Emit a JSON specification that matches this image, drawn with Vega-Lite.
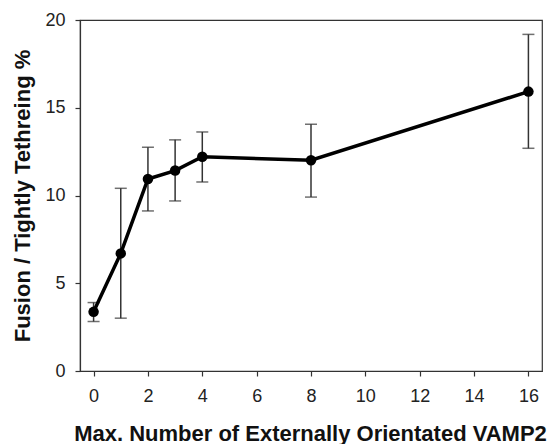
{
  "$schema": "https://vega.github.io/schema/vega-lite/v6.json",
  "autosize": "none",
  "width": 462,
  "height": 351,
  "padding": {"left": 80, "top": 20, "right": 10, "bottom": 73},
  "config": {
    "view": {"stroke": "#333", "strokeWidth": 1.2},
    "axis": {
      "domainColor": "#333", "tickColor": "#333", "domainWidth": 1.2, "tickWidth": 1.2,
      "tickSize": 5, "grid": false, "labelFont": "Liberation Sans", "labelFontSize": 18,
      "labelColor": "#222", "titleFont": "Liberation Sans",
      "titleFontWeight": "bold", "titleColor": "#111"
    }
  },
  "data": {"values": [
    {"n": 0, "mean": 3.37, "lo": 2.82, "hi": 3.9},
    {"n": 1, "mean": 6.7, "lo": 3.01, "hi": 10.41},
    {"n": 2, "mean": 10.94, "lo": 9.12, "hi": 12.75},
    {"n": 3, "mean": 11.42, "lo": 9.69, "hi": 13.17},
    {"n": 4, "mean": 12.21, "lo": 10.77, "hi": 13.62},
    {"n": 8, "mean": 12.01, "lo": 9.91, "hi": 14.06},
    {"n": 16, "mean": 15.92, "lo": 12.69, "hi": 19.18}
  ]},
  "encoding": {
    "x": {"field": "n", "type": "quantitative",
      "scale": {"domain": [-0.5, 16.5], "nice": false, "zero": false},
      "axis": {"values": [0, 2, 4, 6, 8, 10, 12, 14, 16], "labelPadding": 11,
        "title": "Max. Number of Externally Orientated VAMP2", "titleFontSize": 22, "titleY": 69, "titleX": 230, "titleBaseline": "alphabetic"}}
  },
  "layer": [
    {"mark": {"type": "rule", "color": "#333", "strokeWidth": 1.5},
     "encoding": {
       "y": {"field": "lo", "type": "quantitative",
         "scale": {"domain": [0, 20], "nice": false},
         "axis": {"values": [0, 5, 10, 15, 20], "labelPadding": 10,
           "title": "Fusion / Tightly Tethreing %", "titleFontSize": 22, "titleX": -51, "titleBaseline": "alphabetic"}},
       "y2": {"field": "hi"}}},
    {"mark": {"type": "tick", "orient": "horizontal", "color": "#333", "size": 12, "thickness": 1.5},
     "encoding": {"y": {"field": "lo", "type": "quantitative"}}},
    {"mark": {"type": "tick", "orient": "horizontal", "color": "#333", "size": 12, "thickness": 1.5},
     "encoding": {"y": {"field": "hi", "type": "quantitative"}}},
    {"mark": {"type": "line", "color": "#000", "strokeWidth": 3.5},
     "encoding": {"y": {"field": "mean", "type": "quantitative"}}},
    {"mark": {"type": "point", "filled": true, "color": "#000", "size": 110, "opacity": 1},
     "encoding": {"y": {"field": "mean", "type": "quantitative"}}}
  ]
}
